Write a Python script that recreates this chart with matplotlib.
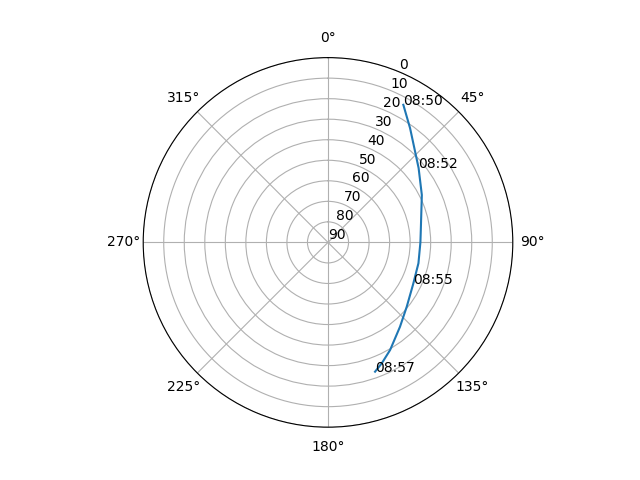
import matplotlib
matplotlib.use('Agg')
import matplotlib.pyplot as plt
import numpy as np

# satellite pass: azimuth (deg), elevation (deg), time labels
azimuth = [28.7, 35.7, 50.6, 63.2, 82.4, 90.0, 103.0, 116.2, 129.2, 139.5, 150.0, 156.1, 160.0]
elevation = [13.6, 21.5, 32.9, 38.8, 44.4, 45.0, 44.8, 43.8, 40.5, 36.0, 29.5, 25.5, 23.0]
time_labels = ['08:50', '', '08:52', '', '', '', '', '08:55', '', '', '', '', '08:57']

elev_ticks = list(range(0, 91, 10))

fig = plt.figure(figsize=(6.4, 4.8), dpi=100)
ax = fig.add_subplot(projection='polar')

ax.set_theta_zero_location('N')
ax.set_theta_direction(-1)

theta = np.radians(azimuth)
ax.plot(theta, elevation)

for t, r, label in zip(theta, elevation, time_labels):
    if label:
        ax.text(t, r, label)

ax.set_ylim(90, 0)
ax.set_yticks(elev_ticks)

fig.savefig('out.png')
